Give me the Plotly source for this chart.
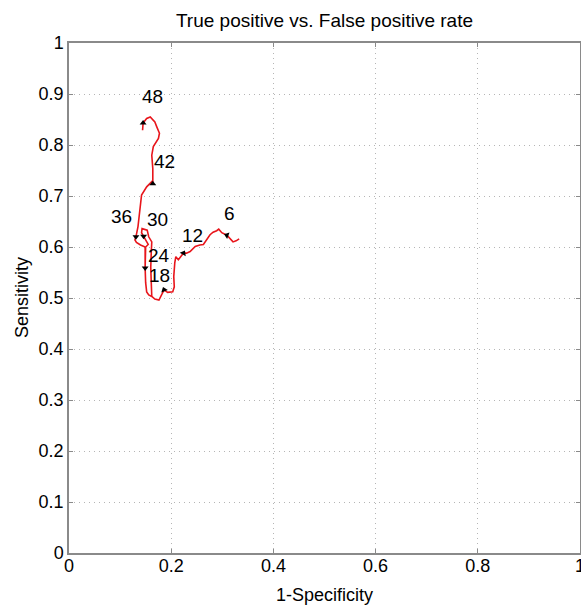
import plotly.graph_objects as go

# Trajectory of (1-specificity, sensitivity) over time
fpr = [0.333, 0.327, 0.321, 0.316, 0.309, 0.299, 0.293, 0.289, 0.282, 0.276, 0.269,
       0.263, 0.256, 0.247, 0.237, 0.230, 0.224, 0.217, 0.214, 0.209, 0.207, 0.205,
       0.206, 0.203, 0.199, 0.193, 0.186, 0.180, 0.176, 0.168, 0.162,
       0.161, 0.160, 0.161, 0.162, 0.156, 0.153, 0.143, 0.142, 0.146, 0.151, 0.155,
       0.150, 0.149, 0.149, 0.150, 0.152, 0.156, 0.162,
       0.156, 0.152, 0.150, 0.149, 0.149, 0.149,
       0.140, 0.132, 0.129, 0.131, 0.135, 0.138, 0.142, 0.152, 0.162, 0.164, 0.164,
       0.162, 0.165, 0.175, 0.177, 0.172, 0.168, 0.159, 0.152, 0.145, 0.144]
tpr = [0.616, 0.612, 0.610, 0.615, 0.623, 0.628, 0.635, 0.632, 0.629, 0.624, 0.614,
       0.605, 0.604, 0.601, 0.591, 0.588, 0.588, 0.578, 0.575, 0.581, 0.569, 0.542,
       0.522, 0.512, 0.511, 0.511, 0.516, 0.505, 0.496, 0.498, 0.503,
       0.530, 0.560, 0.590, 0.610, 0.620, 0.633, 0.636, 0.628, 0.621, 0.612, 0.605,
       0.600, 0.580, 0.559, 0.530, 0.512, 0.506, 0.503,
       0.506, 0.512, 0.530, 0.559, 0.580, 0.600,
       0.604, 0.609, 0.614, 0.620, 0.640, 0.666, 0.702, 0.718, 0.728, 0.724, 0.754,
       0.780, 0.797, 0.813, 0.823, 0.835, 0.845, 0.855, 0.852, 0.843, 0.829]

# Time markers (hours) along the trajectory
mark_labels = ["6", "12", "18", "24", "30", "36", "42", "48"]
mark_fpr = [0.309, 0.224, 0.186, 0.149, 0.146, 0.131, 0.164, 0.145]
mark_tpr = [0.623, 0.588, 0.516, 0.559, 0.621, 0.620, 0.724, 0.843]

tick_vals_x = [0, 0.2, 0.4, 0.6, 0.8, 1]
tick_text_x = ["0", "0.2", "0.4", "0.6", "0.8", "1"]
tick_vals_y = [0, 0.1, 0.2, 0.3, 0.4, 0.5, 0.6, 0.7, 0.8, 0.9, 1]
tick_text_y = ["0", "0.1", "0.2", "0.3", "0.4", "0.5", "0.6", "0.7", "0.8", "0.9", "1"]

FONT = "Liberation Sans, Arial, Helvetica, sans-serif"

W, H = 581, 606
ML, MR, MT, MB = 69, 1, 43, 53
PW, PH = W - ML - MR, H - MT - MB

fig = go.Figure()
fig.add_trace(go.Scatter(x=fpr, y=tpr, mode="lines",
                         line=dict(color="#e8151b", width=1.6),
                         hoverinfo="skip", showlegend=False))
marker_angles = [-70, 30, -20, 180, 180, 180, 0, 0]
fig.add_trace(go.Scatter(x=mark_fpr, y=mark_tpr, mode="markers",
                         marker=dict(symbol="triangle-up", size=6, color="black",
                                     angle=marker_angles),
                         hoverinfo="skip", showlegend=False))

label_shift = [(3, 22), (9, 18), (-5, 14), (14, 12), (14, 17), (-14, 20), (12, 22), (9, 27)]
for lab, xv, yv, (dx, dy) in zip(mark_labels, mark_fpr, mark_tpr, label_shift):
    fig.add_annotation(x=xv, y=yv, text=lab, showarrow=False,
                       xshift=dx, yshift=dy,
                       font=dict(family=FONT, size=19, color="black"))

axis_common = dict(range=[0, 1], showline=True, linecolor="#8a8a8a", linewidth=1.5,
                   mirror="ticks", ticks="inside", ticklen=4, tickcolor="#8a8a8a",
                   showgrid=True, gridcolor="#b5b5b5", griddash="1px,4px", gridwidth=1,
                   zeroline=False, automargin=False, ticklabeloverflow="allow",
                   tickfont=dict(family=FONT, size=18, color="black"))

fig.update_xaxes(tickvals=tick_vals_x, ticktext=tick_text_x, ticklabelstandoff=-4,
                 **axis_common)
fig.update_yaxes(tickvals=tick_vals_y, ticktext=tick_text_y, ticklabelstandoff=0,
                 **axis_common)

fig.add_annotation(text="1-Specificity", xref="paper", yref="paper",
                   x=0.5, y=-42 / PH, xanchor="center", yanchor="middle",
                   showarrow=False, font=dict(family=FONT, size=18, color="black"))
fig.add_annotation(text="Sensitivity", xref="paper", yref="paper",
                   x=-47 / PW, y=0.5, xanchor="center", yanchor="middle", textangle=-90,
                   showarrow=False, font=dict(family=FONT, size=18, color="black"))

fig.update_layout(
    width=W, height=H,
    margin=dict(l=ML, r=MR, t=MT, b=MB),
    paper_bgcolor="white", plot_bgcolor="white",
    title=dict(text="True positive vs. False positive rate",
               font=dict(family=FONT, size=19, color="black"),
               x=(ML + PW / 2) / W, xanchor="center",
               y=1 - 20 / H, yanchor="middle", yref="container"),
)

fig.write_html(
    "out.html",
    config={"displayModeBar": False},
    post_script="document.body.style.margin='0';"
                "document.documentElement.style.overflow='hidden';"
                "document.body.style.overflow='hidden';",
)
